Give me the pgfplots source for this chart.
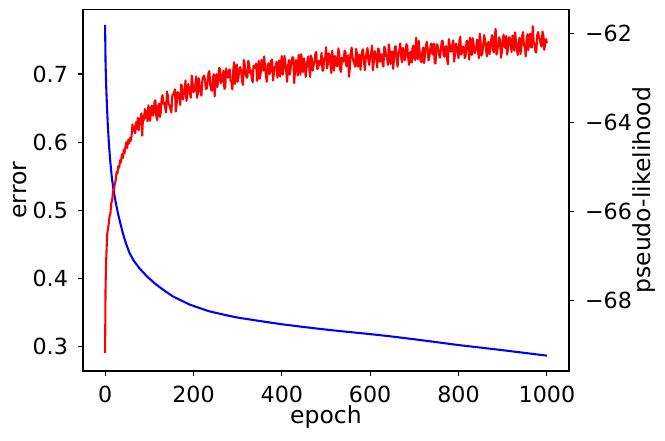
\documentclass[border=0pt]{standalone}
\usepackage{fontspec}
\setmainfont{DejaVu Sans}
\usepackage{pgfplots}
\pgfplotsset{compat=1.18}
\usepackage{pgfplotstable}

\pgfplotstableread{
e v
0 0.772
1 0.718
2 0.692
3 0.673
4 0.657
6 0.627
9 0.594
12 0.570
15 0.550
19 0.530
24 0.512
29 0.496
35 0.480
40 0.467
47 0.452
55 0.438
65 0.426
78 0.415
95 0.403
116 0.391
135 0.382
153 0.374
172 0.368
191 0.362
213 0.357
236 0.352
259 0.3485
282 0.3452
300 0.3428
350 0.3378
400 0.3330
450 0.3290
500 0.3252
550 0.3218
600 0.3186
650 0.315
700 0.311
750 0.3068
800 0.3025
850 0.2988
900 0.295
950 0.291
1000 0.287
}\errtable

\pgfplotstableread{
e v
0 -69.19
1 -67.75
2 -67.25
3 -66.95
4 -66.70
5 -66.50
6 -66.42
8 -66.30
10 -66.12
12 -66.05
14 -65.82
16 -65.75
18 -65.55
20 -65.52
22 -65.38
24 -65.30
26 -65.12
28 -65.15
30 -64.98
32 -65.02
34 -64.85
36 -64.90
38 -64.72
40 -64.80
42 -64.62
44 -64.70
46 -64.55
48 -64.45
50 -64.58
52 -64.40
54 -64.48
56 -64.35
58 -64.42
60 -64.30
62 -64.05
64 -64.20
66 -64.10
68 -64.25
70 -64.00
72 -64.15
74 -63.90
76 -64.18
78 -63.92
80 -64.05
82 -63.80
84 -64.30
86 -63.85
88 -63.95
90 -63.70
92 -63.90
94 -63.75
96 -63.98
98 -63.62
100 -63.82
102 -63.97
104 -63.66
106 -63.63
108 -63.85
110 -63.80
112 -63.53
114 -63.51
116 -63.87
118 -63.95
120 -63.64
122 -63.58
124 -63.88
126 -63.78
128 -63.47
130 -63.39
132 -63.58
134 -63.56
136 -63.68
138 -63.78
140 -63.31
142 -63.40
144 -63.60
146 -63.62
148 -63.71
150 -63.78
152 -63.41
154 -63.37
156 -63.34
158 -63.26
160 -63.76
162 -63.58
164 -63.32
166 -63.35
168 -63.43
170 -63.61
172 -63.15
174 -63.19
176 -63.49
178 -63.38
180 -63.28
182 -63.06
184 -63.52
186 -63.41
188 -63.14
190 -63.23
192 -63.34
194 -63.45
196 -62.95
198 -63.10
200 -63.32
202 -63.29
204 -63.19
206 -62.97
208 -63.45
210 -63.35
212 -63.01
214 -63.16
216 -63.32
218 -63.40
220 -63.07
222 -62.98
224 -62.95
226 -63.03
228 -63.25
230 -63.24
232 -63.12
234 -62.89
236 -62.85
238 -63.16
240 -63.27
242 -63.29
244 -63.00
246 -62.92
248 -63.42
250 -63.03
252 -62.92
254 -63.21
256 -63.08
258 -62.78
260 -62.80
262 -63.12
264 -63.09
266 -62.94
268 -62.84
270 -63.25
272 -63.22
274 -62.79
276 -62.92
278 -63.00
280 -62.85
282 -62.81
284 -63.08
286 -63.09
288 -63.26
290 -62.84
292 -62.65
294 -63.14
296 -62.96
298 -62.70
300 -63.09
302 -62.98
304 -62.79
306 -62.76
308 -62.85
310 -63.08
312 -63.16
314 -62.60
316 -62.69
318 -62.92
320 -62.98
322 -63.00
324 -62.62
326 -62.68
328 -62.89
330 -62.83
332 -63.02
334 -63.10
336 -62.73
338 -62.73
340 -62.78
342 -62.68
344 -63.07
346 -62.92
348 -62.62
350 -63.02
352 -62.92
354 -62.60
356 -62.81
358 -62.84
360 -62.52
362 -62.73
364 -62.96
366 -63.09
368 -62.73
370 -62.67
372 -62.92
374 -62.86
376 -62.61
378 -62.59
380 -63.06
382 -62.92
384 -62.75
386 -62.75
388 -62.64
390 -63.00
392 -62.85
394 -62.61
396 -62.97
398 -62.69
400 -62.51
402 -62.93
404 -62.77
406 -62.51
408 -62.67
410 -62.86
412 -63.09
414 -62.74
416 -62.60
418 -62.93
420 -62.80
422 -62.61
424 -62.54
426 -62.54
428 -63.12
430 -62.84
432 -62.60
434 -62.76
436 -62.95
438 -62.48
440 -62.65
442 -62.93
444 -62.47
446 -62.66
448 -62.87
450 -62.56
452 -62.69
454 -62.98
456 -62.78
458 -62.60
460 -62.52
462 -62.77
464 -62.98
466 -62.50
468 -62.58
470 -62.84
472 -62.72
474 -62.65
476 -62.45
478 -62.42
480 -62.80
482 -62.79
484 -62.62
486 -62.71
488 -62.61
490 -62.44
492 -62.84
494 -62.83
496 -62.56
498 -62.58
500 -62.31
502 -62.79
504 -62.71
506 -62.45
508 -62.48
510 -62.70
512 -62.89
514 -62.39
516 -62.60
518 -62.84
520 -62.51
522 -62.55
524 -62.74
526 -62.73
528 -62.34
530 -62.46
532 -62.82
534 -62.87
536 -62.55
538 -62.57
540 -62.64
542 -62.39
544 -62.42
546 -62.74
548 -62.74
550 -62.49
552 -62.98
554 -62.79
556 -62.45
558 -62.32
560 -62.53
562 -62.62
564 -62.68
566 -62.75
568 -62.35
570 -62.45
572 -62.75
574 -62.53
576 -62.48
578 -62.82
580 -62.58
582 -62.39
584 -62.36
586 -62.65
588 -62.83
590 -62.55
592 -62.43
594 -62.33
596 -62.63
598 -62.71
600 -62.51
602 -62.46
604 -62.28
606 -62.83
608 -62.67
610 -62.40
612 -62.46
614 -62.59
616 -62.77
618 -62.34
620 -62.37
622 -62.64
624 -62.58
626 -62.47
628 -62.68
630 -62.75
632 -62.30
634 -62.35
636 -62.51
638 -62.54
640 -62.71
642 -62.25
644 -62.37
646 -62.69
648 -62.42
650 -62.41
652 -62.80
654 -62.57
656 -62.30
658 -62.29
660 -62.58
662 -62.75
664 -62.46
666 -62.37
668 -62.23
670 -62.53
672 -62.65
674 -62.33
676 -62.37
678 -62.61
680 -62.52
682 -62.24
684 -62.29
686 -62.56
688 -62.71
690 -62.44
692 -62.41
694 -62.66
696 -62.31
698 -62.28
700 -62.56
702 -62.60
704 -62.10
706 -62.38
708 -62.58
710 -62.17
712 -62.43
714 -62.61
716 -62.65
718 -62.42
720 -62.32
722 -62.67
724 -62.49
726 -62.30
728 -62.19
730 -62.34
732 -62.61
734 -62.54
736 -62.34
738 -62.23
740 -62.44
742 -62.48
744 -62.23
746 -62.66
748 -62.68
750 -62.25
752 -62.25
754 -62.37
756 -62.49
758 -62.55
760 -62.35
762 -62.18
764 -62.17
766 -62.49
768 -62.53
770 -62.31
772 -62.29
774 -62.58
776 -62.70
778 -62.13
780 -62.25
782 -62.41
784 -62.41
786 -62.27
788 -62.16
790 -62.64
792 -62.48
794 -62.23
796 -62.30
798 -62.44
800 -62.56
802 -62.16
804 -62.08
806 -62.48
808 -62.42
810 -62.30
812 -62.31
814 -62.56
816 -62.51
818 -62.17
820 -62.17
822 -62.35
824 -62.59
826 -62.10
828 -62.25
830 -62.49
832 -62.11
834 -62.24
836 -62.45
838 -62.39
840 -62.31
842 -62.14
844 -62.40
846 -62.56
848 -62.01
850 -62.19
852 -62.50
854 -62.44
856 -62.25
858 -62.04
860 -62.16
862 -62.34
864 -62.52
866 -62.23
868 -62.19
870 -62.47
872 -62.34
874 -62.14
876 -62.04
878 -62.38
880 -62.43
882 -62.07
884 -61.90
886 -62.48
888 -62.38
890 -62.25
892 -62.09
894 -62.17
896 -62.55
898 -62.41
900 -62.15
902 -62.03
904 -62.30
906 -62.33
908 -62.06
910 -62.48
912 -62.34
914 -62.09
916 -62.10
918 -62.27
920 -62.42
922 -62.05
924 -62.17
926 -62.39
928 -61.98
930 -62.18
932 -62.36
934 -62.49
936 -62.21
938 -62.10
940 -62.47
942 -62.33
944 -62.06
946 -61.97
948 -62.28
950 -62.27
952 -62.52
954 -62.13
956 -62.02
958 -62.38
960 -62.13
962 -62.01
964 -62.31
966 -62.32
968 -61.84
970 -62.19
972 -62.23
974 -62.42
976 -62.43
978 -62.05
980 -61.97
982 -62.08
984 -62.13
986 -62.26
988 -62.30
990 -61.96
992 -62.04
994 -62.37
996 -62.25
998 -62.13
1000 -62.22
}\pltable

\newcommand{\tickfont}{\fontsize{22.2}{26}\selectfont}
\newcommand{\labfont}{\fontsize{23.5}{28}\selectfont}
\pgfplotsset{
  common/.style={
    at={(0pt,0pt)}, anchor=south west,
    scale only axis, width=486pt, height=361.5pt,
    xmin=-50, xmax=1050,
    axis line style={line width=1.1pt, black},
    every tick/.style={black, line width=1.1pt},
    major tick length=4.9pt,
    tick align=outside,
    tick label style={font=\tickfont, inner sep=0pt},
  }
}

\begin{document}
\begin{tikzpicture}
\useasboundingbox (-83pt,-70pt) rectangle (582pt,371pt);
\begin{axis}[common,
  ymin=0.2645, ymax=0.7945,
  xtick pos=left, ytick pos=left,
  xtick={0,200,400,600,800,1000},
  xticklabels={0,200,400,600,800,1000},
  ytick={0.3,0.4,0.5,0.6,0.7},
  yticklabels={0.3,0.4,0.5,0.6,0.7},
  xticklabel style={anchor=base, yshift=-27pt},
  yticklabel style={anchor=east, xshift=-10pt},
]
\addplot[blue, line width=2.08pt, line join=round] table[x=e, y=v] {\errtable};
\end{axis}
\begin{axis}[common,
  ymin=-69.59, ymax=-61.465,
  axis x line=none,
  axis y line*=right,
  ytick pos=right,
  ytick={-68,-66,-64,-62},
  yticklabels={−68,−66,−64,−62},
  yticklabel style={anchor=west, xshift=11pt},
]
\addplot[red, line width=2.08pt, line join=round] table[x=e, y=v] {\pltable};
\end{axis}
\node[font=\labfont, inner sep=0pt, anchor=base] at (243pt,-53pt) {epoch};
\node[font=\labfont, inner sep=0pt, anchor=base, rotate=90] at (-56pt,180.75pt) {error};
\node[font=\labfont, inner sep=0pt, anchor=base, rotate=90] at (567pt,180.75pt) {pseudo-likelihood};
\end{tikzpicture}
\end{document}
